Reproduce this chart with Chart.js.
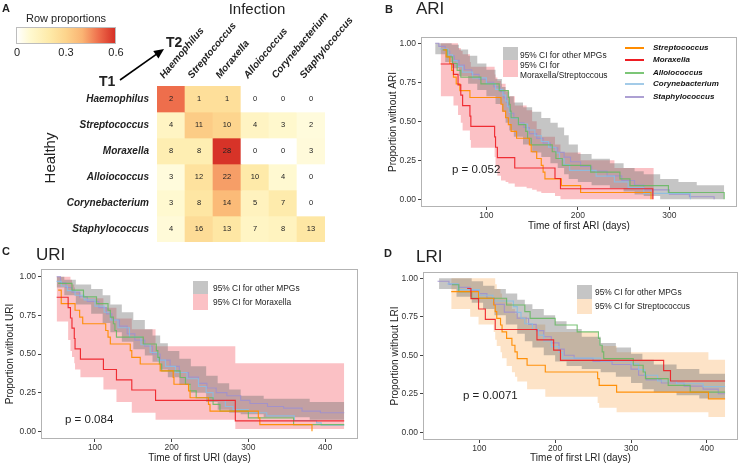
<!DOCTYPE html>
<html>
<head>
<meta charset="utf-8">
<script src="https://cdn.jsdelivr.net/npm/chart.js@4.4.1/dist/chart.umd.min.js"></script>
<style>
  body { margin: 0; background: #fff; font-family: 'Liberation Sans', Arial, Helvetica, sans-serif; color: #222; }
  #wrap { position: relative; width: 740px; height: 465px; overflow: hidden; }
  canvas { position: absolute; }
  .t { position: absolute; white-space: nowrap; line-height: 1; }
  .lab { font-weight: bold; font-size: 11px; }
  .ttl { font-size: 17px; }
  .leg { font-size: 8.4px; color: #222; }
  .sp { font-size: 8px; font-weight: bold; font-style: italic; color: #111; }
  .pv { font-size: 11.5px; }
  .box { position: absolute; }
  .seg { position: absolute; height: 2px; width: 19px; }
</style>
</head>
<body>
<div id="wrap">
  <canvas id="heat" width="370" height="248" style="left:0;top:0"></canvas>
  <canvas id="ari" width="370" height="204" style="left:370px;top:28px"></canvas>
  <canvas id="uri" width="370" height="216" style="left:0;top:248px"></canvas>
  <canvas id="lri" width="370" height="216" style="left:370px;top:248px"></canvas>

  <!-- panel A decorations -->
  <div class="t lab" style="left:2px;top:3px">A</div>
  <div class="t" style="left:257px;top:1px;font-size:15px;transform:translateX(-50%)">Infection</div>
  <div class="t" style="left:49px;top:158px;font-size:15px;transform:translate(-50%,-50%) rotate(-90deg)">Healthy</div>
  <div class="t" style="left:66px;top:13px;font-size:11px;transform:translateX(-50%)">Row proportions</div>
  <div id="grad" class="box" style="left:16px;top:27px;width:100px;height:17px;box-sizing:border-box;border:1px solid #bdbdbd"></div>
  <div class="t" style="left:17px;top:47px;font-size:11px;transform:translateX(-50%)">0</div>
  <div class="t" style="left:66px;top:47px;font-size:11px;transform:translateX(-50%)">0.3</div>
  <div class="t" style="left:116px;top:47px;font-size:11px;transform:translateX(-50%)">0.6</div>
  <div class="t" style="left:99px;top:74px;font-size:14px;font-weight:bold">T1</div>
  <div class="t" style="left:166px;top:35px;font-size:14px;font-weight:bold">T2</div>

  <!-- panel B decorations -->
  <div class="t lab" style="left:385px;top:4px">B</div>
  <div class="t ttl" style="left:416px;top:0px">ARI</div>
  <div class="box" style="left:503px;top:47px;width:15px;height:13px;background:rgba(110,110,110,0.4)"></div>
  <div class="box" style="left:503px;top:60px;width:15px;height:17px;background:rgba(245,100,110,0.4)"></div>
  <div class="t leg" style="left:520px;top:51px">95% CI for other MPGs</div>
  <div class="t leg" style="left:520px;top:61px">95% CI for</div>
  <div class="t leg" style="left:520px;top:71px">Moraxella/Streptoccous</div>
  <div class="seg" style="left:625px;top:47px;background:#FF8C00"></div>
  <div class="seg" style="left:625px;top:59px;background:#EE1D23"></div>
  <div class="seg" style="left:625px;top:72px;background:#7CC677"></div>
  <div class="seg" style="left:625px;top:83px;background:#A3CBE8"></div>
  <div class="seg" style="left:625px;top:96px;background:#ADA0D3"></div>
  <div class="t sp" style="left:653px;top:44px">Streptococcus</div>
  <div class="t sp" style="left:653px;top:56px">Moraxella</div>
  <div class="t sp" style="left:653px;top:69px">Alloiococcus</div>
  <div class="t sp" style="left:653px;top:80px">Corynebacterium</div>
  <div class="t sp" style="left:653px;top:93px">Staphylococcus</div>
  <div class="t pv" style="left:452px;top:164px">p = 0.052</div>

  <!-- panel C decorations -->
  <div class="t lab" style="left:2px;top:246px">C</div>
  <div class="t ttl" style="left:36px;top:246px">URI</div>
  <div class="box" style="left:193px;top:281px;width:15px;height:13px;background:rgba(110,110,110,0.4)"></div>
  <div class="box" style="left:193px;top:294px;width:15px;height:16px;background:rgba(245,100,110,0.4)"></div>
  <div class="t leg" style="left:213px;top:284px">95% CI for other MPGs</div>
  <div class="t leg" style="left:213px;top:298px">95% CI for Moraxella</div>
  <div class="t pv" style="left:65px;top:414px">p = 0.084</div>

  <!-- panel D decorations -->
  <div class="t lab" style="left:384px;top:248px">D</div>
  <div class="t ttl" style="left:416px;top:248px">LRI</div>
  <div class="box" style="left:577px;top:285px;width:15px;height:14px;background:rgba(110,110,110,0.4)"></div>
  <div class="box" style="left:577px;top:299px;width:15px;height:15px;background:rgba(250,175,95,0.35)"></div>
  <div class="t leg" style="left:595px;top:288px">95% CI for other MPGs</div>
  <div class="t leg" style="left:595px;top:302px">95% CI for Streptococcus</div>
  <div class="t pv" style="left:463px;top:390px">p = 0.0071</div>
</div>

<script>
Chart.defaults.font.family = "'Liberation Sans', Arial, Helvetica, sans-serif";
Chart.defaults.color = '#333';
Chart.defaults.animation = false;

// ── Panel A: transition counts (rows = healthy T1, cols = infection T2) ──
const GENERA = ['Haemophilus', 'Streptococcus', 'Moraxella', 'Alloiococcus', 'Corynebacterium', 'Staphylococcus'];
const ROW_HAEM   = [2, 1, 1, 0, 0, 0];
const ROW_STREP  = [4, 11, 10, 4, 3, 2];
const ROW_MORAX  = [8, 8, 28, 0, 0, 3];
const ROW_ALLO   = [3, 12, 22, 10, 4, 0];
const ROW_CORYNE = [3, 8, 14, 5, 7, 0];
const ROW_STAPH  = [4, 16, 13, 7, 8, 13];
const HEAT_ROWS = [ROW_HAEM, ROW_STREP, ROW_MORAX, ROW_ALLO, ROW_CORYNE, ROW_STAPH];
const HEAT_STOPS = [
    [0, [255, 255, 255]], [0.08, [255, 249, 208]], [0.2, [254, 234, 168]],
    [0.3, [253, 212, 140]], [0.4, [250, 180, 115]], [0.5, [238, 110, 76]], [0.6, [214, 48, 38]]
];

// ── Panel B: ARI, Kaplan-Meier steps [day, survival] ──
const B_MORAX = [[50,0.867],[64,0.8],[69,0.733],[72,0.667],[74,0.6],[82,0.533],[83,0.467],[109,0.4],[110,0.333],[112,0.267],[131,0.2],[175,0.133],[181,0.067],[282,0]];
const B_STREP = [[53,0.957],[56,0.913],[60,0.87],[62,0.826],[64,0.783],[67,0.739],[71,0.696],[82,0.652],[116,0.609],[118,0.565],[121,0.522],[124,0.478],[127,0.435],[133,0.391],[147,0.348],[149,0.304],[155,0.261],[160,0.217],[162,0.174],[164,0.13],[182,0.087],[203,0.043],[280,0]];
const B_ALLO = [[52,0.957],[57,0.913],[63,0.87],[68,0.826],[72,0.783],[94,0.739],[114,0.696],[124,0.652],[125,0.609],[126,0.565],[127,0.522],[135,0.478],[143,0.435],[145,0.391],[149,0.348],[172,0.304],[176,0.261],[183,0.217],[214,0.174],[246,0.13],[257,0.087],[299,0.043],[360,0]];
const B_CORYNE = [[49,0.963],[58,0.926],[63,0.889],[68,0.852],[74,0.815],[85,0.778],[100,0.741],[110,0.704],[118,0.667],[121,0.63],[123,0.593],[125,0.556],[127,0.519],[135,0.481],[145,0.444],[153,0.407],[160,0.37],[168,0.333],[176,0.296],[180,0.259],[185,0.222],[191,0.185],[220,0.148],[240,0.111],[255,0.074],[272,0.037],[323,0]];
const B_STAPH = [[44,1],[48,0.98],[55,0.95],[60,0.92],[65,0.89],[70,0.86],[76,0.83],[84,0.8],[92,0.77],[100,0.75],[108,0.72],[115,0.69],[119,0.65],[122,0.62],[124,0.59],[126,0.55],[130,0.52],[135,0.49],[141,0.46],[147,0.42],[155,0.39],[162,0.36],[170,0.33],[178,0.3],[185,0.27],[192,0.24],[203,0.21],[215,0.18],[232,0.15],[248,0.12],[262,0.09],[272,0.06],[300,0.033],[322,0.016],[349,0]];
// CI bands [day, lower, upper]
const B_CI_OTHER = [[44,0.93,1],[55,0.88,1],[62,0.84,0.99],[70,0.79,0.96],[80,0.74,0.92],[90,0.7,0.87],[100,0.66,0.83],[110,0.61,0.77],[117,0.56,0.72],[121,0.49,0.69],[125,0.44,0.66],[130,0.4,0.62],[140,0.35,0.59],[150,0.3,0.56],[160,0.27,0.52],[170,0.23,0.49],[178,0.2,0.46],[185,0.16,0.41],[190,0.13,0.35],[200,0.11,0.29],[215,0.09,0.26],[235,0.07,0.23],[250,0.05,0.2],[262,0.03,0.18],[272,0.02,0.16],[290,0,0.13],[310,0,0.11],[330,0,0.09],[360,0,0.08]];
const B_CI_MS = [[50,0.66,1],[64,0.6,1],[69,0.54,0.97],[72,0.49,0.95],[74,0.44,0.93],[82,0.38,0.88],[83,0.33,0.85],[109,0.27,0.8],[110,0.21,0.78],[112,0.15,0.76],[116,0.12,0.74],[121,0.11,0.7],[124,0.1,0.66],[131,0.08,0.6],[144,0.07,0.57],[150,0.06,0.5],[155,0.05,0.45],[160,0.04,0.4],[175,0.02,0.35],[181,0,0.3],[203,0,0.25],[240,0,0.2],[283,0,0.17]];

// ── Panel C: URI ──
const C_MORAX = [[50,0.867],[65,0.8],[68,0.733],[70,0.667],[73,0.6],[74,0.533],[81,0.467],[111,0.4],[128,0.333],[148,0.267],[179,0.2],[283,0.067],[425,0.067]];
const C_STREP = [[52,0.913],[56,0.826],[74,0.783],[80,0.739],[84,0.696],[114,0.652],[117,0.609],[120,0.565],[146,0.522],[148,0.478],[159,0.435],[185,0.391],[202,0.348],[203,0.304],[222,0.261],[224,0.217],[248,0.174],[250,0.13],[313,0.087],[315,0.043],[383,0]];
const C_ALLO = [[52,0.957],[70,0.913],[85,0.87],[102,0.826],[117,0.783],[120,0.739],[124,0.696],[126,0.652],[128,0.609],[163,0.565],[180,0.522],[182,0.478],[184,0.435],[187,0.391],[211,0.348],[218,0.304],[224,0.261],[232,0.217],[254,0.174],[263,0.13],[300,0.087],[359,0.043],[425,0.043]];
const C_CORYNE = [[50,0.97],[56,0.94],[64,0.91],[74,0.88],[86,0.85],[100,0.81],[112,0.77],[120,0.72],[130,0.67],[145,0.61],[160,0.56],[172,0.51],[182,0.46],[192,0.42],[205,0.38],[220,0.34],[235,0.29],[245,0.25],[254,0.2],[270,0.16],[280,0.14],[300,0.12],[324,0.1],[360,0.07],[389,0.054],[395,0.04],[425,0.04]];
const C_STAPH = [[50,1],[55,0.96],[62,0.93],[70,0.9],[80,0.87],[90,0.84],[105,0.8],[115,0.76],[122,0.72],[132,0.68],[142,0.63],[152,0.59],[165,0.55],[175,0.5],[185,0.46],[198,0.42],[210,0.38],[222,0.35],[235,0.31],[246,0.28],[258,0.25],[272,0.23],[290,0.2],[302,0.18],[325,0.16],[346,0.15],[370,0.13],[394,0.12],[425,0.12]];
const C_CI_OTHER = [[50,0.93,1],[60,0.88,0.98],[75,0.82,0.95],[95,0.76,0.92],[110,0.7,0.88],[120,0.64,0.82],[135,0.58,0.77],[150,0.53,0.72],[165,0.49,0.66],[175,0.45,0.62],[185,0.4,0.57],[195,0.35,0.52],[210,0.3,0.47],[225,0.25,0.42],[245,0.19,0.36],[260,0.14,0.31],[275,0.12,0.27],[290,0.11,0.23],[320,0.09,0.21],[380,0.075,0.19],[425,0.07,0.18]];
const C_CI_MORAX = [[50,0.71,1],[65,0.59,1],[68,0.52,0.98],[70,0.48,0.95],[73,0.44,0.93],[74,0.4,0.9],[81,0.35,0.86],[111,0.27,0.8],[128,0.19,0.73],[148,0.12,0.66],[179,0.075,0.55],[283,0.015,0.44],[425,0.015,0.44]];

// ── Panel D: LRI ──
const D_MORAX = [[84,0.933],[89,0.867],[99,0.8],[108,0.733],[121,0.667],[176,0.6],[198,0.533],[207,0.467],[343,0.4],[352,0.333],[424,0.333]];
const D_STREP = [[63,0.913],[99,0.87],[119,0.826],[121,0.783],[123,0.739],[128,0.696],[130,0.652],[136,0.609],[143,0.565],[147,0.522],[150,0.478],[163,0.435],[187,0.391],[256,0.348],[258,0.304],[281,0.261],[402,0.217],[424,0.217]];
const D_ALLO = [[64,0.957],[73,0.913],[90,0.87],[136,0.826],[160,0.783],[167,0.739],[200,0.696],[229,0.652],[257,0.609],[259,0.565],[262,0.522],[264,0.478],[303,0.435],[316,0.391],[319,0.348],[349,0.304],[378,0.261],[424,0.261]];
const D_CORYNE = [[58,0.963],[72,0.926],[100,0.889],[118,0.852],[145,0.815],[150,0.778],[155,0.741],[160,0.704],[170,0.667],[178,0.63],[185,0.593],[195,0.556],[205,0.519],[210,0.481],[260,0.463],[300,0.444],[310,0.407],[318,0.37],[335,0.333],[360,0.315],[395,0.296],[424,0.296]];
const D_STAPH = [[45,0.98],[60,0.96],[73,0.94],[88,0.92],[100,0.9],[110,0.87],[120,0.83],[133,0.78],[150,0.74],[165,0.7],[175,0.66],[185,0.62],[195,0.58],[205,0.54],[212,0.5],[225,0.48],[250,0.46],[275,0.44],[300,0.41],[310,0.37],[320,0.34],[340,0.32],[370,0.3],[395,0.28],[415,0.25],[424,0.25]];
const D_CI_OTHER = [[47,0.93,1],[70,0.88,1],[90,0.84,0.98],[105,0.8,0.95],[120,0.76,0.93],[135,0.7,0.9],[150,0.64,0.86],[160,0.59,0.83],[170,0.55,0.8],[185,0.5,0.76],[200,0.46,0.72],[215,0.43,0.67],[235,0.41,0.62],[260,0.39,0.58],[280,0.36,0.55],[300,0.32,0.51],[315,0.28,0.47],[330,0.26,0.44],[360,0.24,0.41],[390,0.22,0.38],[424,0.21,0.35]];
const D_CI_STREP = [[63,0.8,1],[88,0.75,1],[99,0.7,1],[119,0.65,1],[121,0.6,0.96],[123,0.56,0.93],[128,0.52,0.9],[130,0.48,0.87],[136,0.43,0.84],[143,0.39,0.8],[147,0.36,0.77],[150,0.33,0.75],[163,0.28,0.7],[187,0.23,0.65],[256,0.19,0.6],[258,0.16,0.56],[281,0.13,0.52],[402,0.1,0.47],[424,0.1,0.47]];

const Y_TICKS = [0, 0.25, 0.5, 0.75, 1];

const COLORS = {
    strep: 'rgba(255,140,0,0.95)', morax: 'rgba(238,29,35,0.9)', allo: 'rgba(100,185,95,0.85)',
    coryne: 'rgba(140,190,226,0.9)', staph: 'rgba(160,145,205,0.9)',
    grey: 'rgba(110,110,110,0.4)', pink: 'rgba(245,100,110,0.4)', peach: 'rgba(250,175,95,0.35)'
};

function heat(p) {
    for (let i = 1; i < HEAT_STOPS.length; i++) {
        const [p0, c0] = HEAT_STOPS[i - 1], [p1, c1] = HEAT_STOPS[i];
        if (p <= p1) {
            const t = (p - p0) / (p1 - p0);
            return 'rgb(' + c0.map((v, k) => Math.round(v + (c1[k] - v) * t)).join(',') + ')';
        }
    }
    return 'rgb(' + HEAT_STOPS[HEAT_STOPS.length - 1][1].join(',') + ')';
}

// colour bar of the legend
document.getElementById('grad').style.background = 'linear-gradient(to right,' +
    HEAT_STOPS.map(s => heat(s[0]) + ' ' + (s[0] / 0.6 * 100) + '%').join(',') + ')';

// ── Heatmap ──
const cellText = {
    id: 'cellText',
    afterDatasetsDraw(chart) {
        const ctx = chart.ctx;
        ctx.save();
        ctx.font = "7.5px 'Liberation Sans', Arial, sans-serif";
        ctx.fillStyle = '#222';
        ctx.textAlign = 'center';
        ctx.textBaseline = 'middle';
        HEAT_ROWS.forEach((row, i) => {
            chart.getDatasetMeta(i).data.forEach((el, j) => {
                ctx.fillText(String(row[j]), el.x, (el.y + el.base) / 2);
            });
        });
        ctx.restore();
    }
};
const arrow = {
    id: 'arrow',
    afterDraw(chart) {
        const ctx = chart.ctx, x0 = 120, y0 = 80, x1 = 164, y1 = 49;
        const a = Math.atan2(y1 - y0, x1 - x0);
        ctx.save();
        ctx.strokeStyle = '#000'; ctx.fillStyle = '#000'; ctx.lineWidth = 1.6;
        ctx.beginPath(); ctx.moveTo(x0, y0); ctx.lineTo(x1 - 6 * Math.cos(a), y1 - 6 * Math.sin(a)); ctx.stroke();
        ctx.beginPath();
        ctx.moveTo(x1, y1);
        ctx.lineTo(x1 - 10 * Math.cos(a) + 4.5 * Math.sin(a), y1 - 10 * Math.sin(a) - 4.5 * Math.cos(a));
        ctx.lineTo(x1 - 10 * Math.cos(a) - 4.5 * Math.sin(a), y1 - 10 * Math.sin(a) + 4.5 * Math.cos(a));
        ctx.closePath(); ctx.fill();
        ctx.restore();
    }
};
const labelFont = { size: 10, weight: 'bold', style: 'italic' };

new Chart(document.getElementById('heat'), {
    type: 'bar',
    data: {
        labels: GENERA,
        datasets: HEAT_ROWS.map((row, i) => {
            const total = row.reduce((a, b) => a + b, 0);
            return {
                data: row.map(() => [i, i + 1]),
                backgroundColor: row.map(c => heat(c / total)),
                grouped: false, barPercentage: 1, categoryPercentage: 1, borderWidth: 0
            };
        })
    },
    options: {
        responsive: false, events: [],
        layout: { padding: { top: 0, right: 45, bottom: 6, left: 0 } },
        plugins: { legend: { display: false }, tooltip: { enabled: false } },
        scales: {
            x: {
                position: 'top',
                grid: { display: false, drawTicks: false }, border: { display: false },
                ticks: { minRotation: 50, maxRotation: 50, padding: 5, color: '#222', font: labelFont },
                afterFit: s => { s.height = 86; s.paddingLeft = 0; s.paddingRight = 0; }
            },
            y: {
                min: 0, max: 6, reverse: true,
                grid: { display: false, drawTicks: false }, border: { display: false },
                afterBuildTicks: s => { s.ticks = GENERA.map((g, i) => ({ value: i + 0.5 })); },
                ticks: { callback: v => GENERA[Math.floor(v)], padding: 8, color: '#222', font: labelFont },
                afterFit: s => { s.width = 157; s.paddingTop = 0; s.paddingBottom = 0; }
            }
        }
    },
    plugins: [cellText, arrow]
});

// ── Kaplan-Meier panels ──
const panelBox = {
    id: 'panelBox',
    afterDraw(chart) {
        const a = chart.chartArea, ctx = chart.ctx;
        ctx.save();
        ctx.strokeStyle = '#b3b3b3'; ctx.lineWidth = 1;
        ctx.strokeRect(Math.round(a.left) + 0.5, Math.round(a.top) + 0.5, Math.round(a.right - a.left) - 1, Math.round(a.bottom - a.top) - 1);
        ctx.restore();
    }
};

function km(id, cfg) {
    const ds = [];
    cfg.lines.forEach(l => ds.push({
        data: l.data.map(p => ({ x: p[0], y: p[1] })),
        borderColor: l.color, borderWidth: 1.15, stepped: true, pointRadius: 0, fill: false
    }));
    cfg.bands.forEach(b => {
        ds.push({ data: b.data.map(p => ({ x: p[0], y: p[2] })), borderWidth: 0, borderColor: 'rgba(0,0,0,0)', pointRadius: 0, stepped: true, fill: false });
        ds.push({ data: b.data.map(p => ({ x: p[0], y: p[1] })), borderWidth: 0, borderColor: 'rgba(0,0,0,0)', pointRadius: 0, stepped: true, fill: '-1', backgroundColor: b.color });
    });
    new Chart(document.getElementById(id), {
        type: 'line',
        data: { datasets: ds },
        options: {
            responsive: false, events: [],
            layout: { padding: cfg.pad },
            plugins: { legend: { display: false }, tooltip: { enabled: false }, filler: { drawTime: 'beforeDatasetsDraw' } },
            scales: {
                x: {
                    type: 'linear', min: cfg.xmin, max: cfg.xmax,
                    afterBuildTicks: s => { s.ticks = cfg.xticks.map(v => ({ value: v })); },
                    grid: { drawOnChartArea: false, tickLength: 3, color: '#444' }, border: { display: false },
                    ticks: { font: { size: 8.5 }, color: '#333', padding: 1 },
                    title: { display: true, text: cfg.xtitle, font: { size: 10 }, color: '#222', padding: 0 },
                    afterFit: s => { s.height = cfg.xh; s.paddingLeft = 0; s.paddingRight = 0; }
                },
                y: {
                    min: cfg.ymin, max: cfg.ymax,
                    afterBuildTicks: s => { s.ticks = Y_TICKS.map(v => ({ value: v })); },
                    grid: { drawOnChartArea: false, tickLength: 3, color: '#444' }, border: { display: false },
                    ticks: { font: { size: 8.5 }, color: '#333', padding: 2, callback: v => v.toFixed(2) },
                    title: { display: true, text: cfg.ytitle, font: { size: 10 }, color: '#222', padding: 0 },
                    afterFit: s => { s.width = cfg.yw; s.paddingTop = 0; s.paddingBottom = 0; }
                }
            }
        },
        plugins: [panelBox]
    });
}

km('ari', {
    lines: [
        { data: B_MORAX, color: COLORS.morax }, { data: B_STREP, color: COLORS.strep },
        { data: B_ALLO, color: COLORS.allo }, { data: B_CORYNE, color: COLORS.coryne },
        { data: B_STAPH, color: COLORS.staph }
    ],
    bands: [{ data: B_CI_OTHER, color: COLORS.grey }, { data: B_CI_MS, color: COLORS.pink }],
    xmin: 28.5, xmax: 374, xticks: [100, 200, 300], ymin: -0.05, ymax: 1.04,
    xtitle: 'Time of first ARI (days)', ytitle: 'Proportion without ARI',
    pad: { left: 17, right: 3, top: 9, bottom: 0 }, yw: 34, xh: 25
});

km('uri', {
    lines: [
        { data: C_MORAX, color: COLORS.morax }, { data: C_STREP, color: COLORS.strep },
        { data: C_ALLO, color: COLORS.allo }, { data: C_CORYNE, color: COLORS.coryne },
        { data: C_STAPH, color: COLORS.staph }
    ],
    bands: [{ data: C_CI_OTHER, color: COLORS.grey }, { data: C_CI_MORAX, color: COLORS.pink }],
    xmin: 29.6, xmax: 443, xticks: [100, 200, 300, 400], ymin: -0.05, ymax: 1.05,
    xtitle: 'Time of first URI (days)', ytitle: 'Proportion without URI',
    pad: { left: 4, right: 12, top: 21, bottom: 0 }, yw: 37, xh: 25
});

km('lri', {
    lines: [
        { data: D_MORAX, color: COLORS.morax }, { data: D_STREP, color: COLORS.strep },
        { data: D_ALLO, color: COLORS.allo }, { data: D_CORYNE, color: COLORS.coryne },
        { data: D_STAPH, color: COLORS.staph }
    ],
    bands: [{ data: D_CI_OTHER, color: COLORS.grey }, { data: D_CI_STREP, color: COLORS.peach }],
    xmin: 25.8, xmax: 441, xticks: [100, 200, 300, 400], ymin: -0.05, ymax: 1.04,
    xtitle: 'Time of first LRI (days)', ytitle: 'Proportion without LRI',
    pad: { left: 19, right: 2, top: 24, bottom: 0 }, yw: 34, xh: 24
});
</script>
</body>
</html>
